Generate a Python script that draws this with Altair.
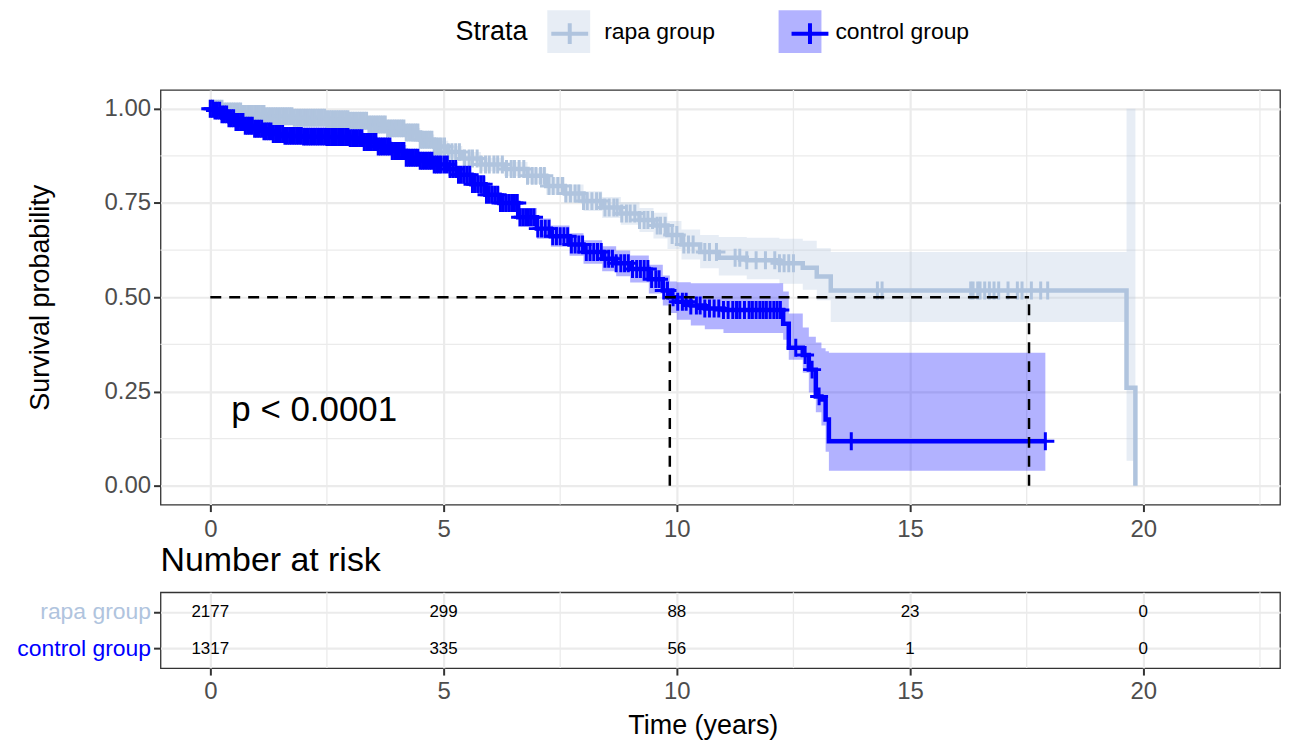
import altair as alt
import pandas as pd
import numpy as np

FONT = "Liberation Sans"

groups = ["rapa group", "control group"]
line_colors = ["#B0C4DE", "#0000FF"]

# ---- Kaplan-Meier step curves ----
rapa_time = [0.00, 0.30, 0.70, 1.20, 1.80, 2.50, 3.00, 3.40, 3.80, 4.20, 4.50, 4.80, 5.10, 5.40,
             5.80, 6.30, 6.80, 7.20, 7.60, 8.00, 8.40, 8.80, 9.20, 9.50, 9.80, 10.10, 10.50,
             10.90, 11.50, 12.20, 12.70, 13.00, 13.30, 19.64, 19.83]
rapa_surv = [1.000, 0.993, 0.986, 0.980, 0.976, 0.972, 0.968, 0.958, 0.948, 0.937, 0.918, 0.900,
             0.885, 0.868, 0.852, 0.840, 0.822, 0.795, 0.775, 0.755, 0.738, 0.722, 0.705, 0.690,
             0.665, 0.640, 0.620, 0.605, 0.598, 0.590, 0.578, 0.555, 0.518, 0.260, 0.000]
rapa_lower = [1.000, 0.989, 0.981, 0.974, 0.969, 0.964, 0.959, 0.948, 0.937, 0.925, 0.904, 0.885,
              0.869, 0.851, 0.834, 0.821, 0.801, 0.772, 0.751, 0.729, 0.710, 0.692, 0.673, 0.656,
              0.628, 0.600, 0.577, 0.558, 0.548, 0.536, 0.520, 0.492, 0.434, 0.066, 0.066]
rapa_upper = [1.000, 0.997, 0.991, 0.986, 0.983, 0.980, 0.977, 0.968, 0.959, 0.949, 0.932, 0.915,
              0.901, 0.885, 0.870, 0.859, 0.843, 0.818, 0.799, 0.781, 0.766, 0.752, 0.737, 0.724,
              0.702, 0.680, 0.665, 0.660, 0.658, 0.655, 0.650, 0.630, 0.620, 1.000, 1.000]

control_time = [0.00, 0.10, 0.25, 0.40, 0.55, 0.75, 0.95, 1.15, 1.35, 1.60, 2.00, 2.50, 3.00,
                3.30, 3.60, 3.90, 4.20, 4.50, 4.80, 5.10, 5.30, 5.60, 5.90, 6.20, 6.60, 7.00,
                7.30, 7.70, 8.00, 8.40, 8.70, 9.00, 9.40, 9.70, 9.85, 10.00, 10.30, 10.60,
                11.00, 12.28, 12.40, 12.70, 12.83, 12.98, 13.10, 13.19, 13.26, 17.90]
control_surv = [1.000, 0.995, 0.985, 0.975, 0.965, 0.955, 0.947, 0.940, 0.933, 0.928, 0.926,
                0.925, 0.922, 0.912, 0.900, 0.888, 0.870, 0.862, 0.852, 0.840, 0.825, 0.800,
                0.772, 0.750, 0.712, 0.682, 0.662, 0.640, 0.620, 0.602, 0.590, 0.575, 0.548,
                0.518, 0.500, 0.488, 0.478, 0.470, 0.466, 0.430, 0.366, 0.347, 0.308, 0.237,
                0.229, 0.176, 0.118, 0.118]
control_lower = [1.000, 0.990, 0.978, 0.966, 0.955, 0.944, 0.935, 0.928, 0.920, 0.915, 0.913,
                 0.912, 0.908, 0.897, 0.885, 0.872, 0.853, 0.845, 0.834, 0.821, 0.805, 0.779,
                 0.750, 0.727, 0.687, 0.655, 0.634, 0.610, 0.589, 0.569, 0.556, 0.539, 0.510,
                 0.478, 0.458, 0.440, 0.425, 0.415, 0.405, 0.387, 0.334, 0.300, 0.247, 0.195,
                 0.160, 0.090, 0.040, 0.040]
control_upper = [1.000, 0.999, 0.992, 0.983, 0.975, 0.966, 0.959, 0.952, 0.945, 0.941, 0.939,
                 0.938, 0.936, 0.926, 0.915, 0.904, 0.887, 0.879, 0.870, 0.859, 0.845, 0.821,
                 0.794, 0.773, 0.737, 0.709, 0.690, 0.670, 0.651, 0.635, 0.624, 0.611, 0.586,
                 0.558, 0.542, 0.540, 0.537, 0.537, 0.537, 0.515, 0.457, 0.420, 0.395, 0.380,
                 0.365, 0.357, 0.353, 0.353]

# ---- censoring times ----
rapa_censor = [
    0.00, 0.05, 0.10, 0.15, 0.20, 0.25, 0.30, 0.35, 0.40, 0.45, 0.50, 0.55, 0.60, 0.65, 0.70,
    0.75, 0.80, 0.85, 0.90, 0.95, 1.00, 1.05, 1.10, 1.15, 1.20, 1.25, 1.30, 1.35, 1.40, 1.45,
    1.50, 1.55, 1.60, 1.65, 1.70, 1.75, 1.80, 1.85, 1.90, 1.95, 2.00, 2.05, 2.10, 2.15, 2.20,
    2.25, 2.30, 2.35, 2.40, 2.45, 2.50, 2.55, 2.60, 2.65, 2.70, 2.75, 2.80, 2.85, 2.90, 2.95,
    3.00, 3.05, 3.10, 3.15, 3.20, 3.25, 3.30, 3.35, 3.40, 3.45, 3.50, 3.55, 3.60, 3.65, 3.70,
    3.75, 3.80, 3.85, 3.90, 3.95, 4.00, 4.05, 4.10, 4.15, 4.20, 4.25, 4.30, 4.35, 4.40, 4.45,
    4.50, 4.55, 4.60, 4.65, 4.70, 4.75, 4.80, 4.85, 4.90, 4.95, 5.02, 5.10, 5.18, 5.26, 5.34,
    5.45, 5.55, 5.62, 5.72, 5.80, 5.90, 5.98, 6.08, 6.16, 6.26, 6.35, 6.45, 6.52, 6.62, 6.72,
    6.80, 6.90, 6.98, 7.08, 7.16, 7.26, 7.35, 7.45, 7.55, 7.62, 7.72, 7.82, 7.90, 8.00, 8.08,
    8.18, 8.28, 8.36, 8.46, 8.55, 8.65, 8.72, 8.82, 8.92, 9.00, 9.10, 9.20, 9.30, 9.38, 9.48,
    9.58, 9.65, 9.75, 9.90, 10.00, 10.15, 10.25, 10.35, 10.60, 10.70, 10.85, 11.25, 11.35,
    11.50, 11.70, 11.90, 12.10, 12.20, 12.30, 12.40, 12.50, 14.30, 14.40, 16.30, 16.35, 16.45,
    16.50, 16.60, 16.70, 16.80, 16.90, 17.10, 17.30, 17.40, 17.60, 17.80, 17.95]
control_censor = [
    0.00, 0.05, 0.10, 0.15, 0.20, 0.25, 0.30, 0.35, 0.40, 0.45, 0.50, 0.55, 0.60, 0.65, 0.70,
    0.75, 0.80, 0.85, 0.90, 0.95, 1.00, 1.05, 1.10, 1.15, 1.20, 1.25, 1.30, 1.35, 1.40, 1.45,
    1.50, 1.55, 1.60, 1.65, 1.70, 1.75, 1.80, 1.85, 1.90, 1.95, 2.00, 2.05, 2.10, 2.15, 2.20,
    2.25, 2.30, 2.35, 2.40, 2.45, 2.50, 2.55, 2.60, 2.65, 2.70, 2.75, 2.80, 2.85, 2.90, 2.95,
    3.00, 3.05, 3.10, 3.15, 3.20, 3.25, 3.30, 3.35, 3.40, 3.45, 3.50, 3.55, 3.60, 3.65, 3.70,
    3.75, 3.80, 3.85, 3.90, 3.95, 4.00, 4.05, 4.10, 4.15, 4.20, 4.25, 4.30, 4.35, 4.40, 4.45,
    4.50, 4.55, 4.60, 4.65, 4.70, 4.75, 4.80, 4.85, 4.90, 4.95, 5.02, 5.08, 5.14, 5.20, 5.26,
    5.32, 5.38, 5.44, 5.50, 5.56, 5.62, 5.68, 5.74, 5.80, 5.86, 5.92, 5.98, 6.04, 6.10, 6.16,
    6.22, 6.28, 6.34, 6.40, 6.46, 6.52, 6.58, 6.64, 6.70, 6.76, 6.82, 6.88, 6.94, 7.02, 7.10,
    7.18, 7.26, 7.34, 7.42, 7.50, 7.58, 7.66, 7.74, 7.82, 7.90, 7.98, 8.06, 8.14, 8.22, 8.30,
    8.38, 8.46, 8.54, 8.62, 8.70, 8.80, 8.88, 8.96, 9.05, 9.14, 9.22, 9.30, 9.38, 9.46, 9.55,
    9.62, 9.72, 9.80, 9.92, 10.02, 10.12, 10.20, 10.30, 10.42, 10.50, 10.60, 10.70, 10.80,
    10.90, 11.00, 11.10, 11.20, 11.28, 11.35, 11.45, 11.55, 11.62, 11.70, 11.78, 11.85, 11.92,
    12.00, 12.08, 12.15, 12.22, 12.55, 12.75, 12.90, 13.05, 13.74, 17.90]

# ---- number at risk ----
risk_times = [0, 5, 10, 15, 20]
rapa_risk = [2177, 299, 88, 23, 0]
control_risk = [1317, 335, 56, 1, 0]

# ---- medians and p-value ----
median_times = [9.85, 17.55]
median_level = 0.5
pval_label = "p < 0.0001"
pval_time = 0.45
pval_surv = 0.20

# ---- axes ----
x_ticks = [0, 5, 10, 15, 20]
x_minor = [2.5, 7.5, 12.5, 17.5, 22.5]
y_ticks = [0.0, 0.25, 0.5, 0.75, 1.0]
y_minor = [0.125, 0.375, 0.625, 0.875]
x_domain = [-1.067, 22.93]
y_domain = [-0.05, 1.05]

# ---- build tables ----
curves = pd.concat([
    pd.DataFrame({"group": groups[0], "time": rapa_time, "surv": rapa_surv,
                  "lower": rapa_lower, "upper": rapa_upper}),
    pd.DataFrame({"group": groups[1], "time": control_time, "surv": control_surv,
                  "lower": control_lower, "upper": control_upper}),
], ignore_index=True)


def censor_table(name, times, steps, survs):
    idx = np.searchsorted(np.array(steps), np.array(times), side="right") - 1
    return pd.DataFrame({"group": name, "time": times, "surv": np.array(survs)[idx]})


censors = pd.concat([
    censor_table(groups[0], rapa_censor, rapa_time, rapa_surv),
    censor_table(groups[1], control_censor, control_time, control_surv),
], ignore_index=True)

risk = pd.concat([
    pd.DataFrame({"group": groups[0], "time": risk_times, "n": rapa_risk}),
    pd.DataFrame({"group": groups[1], "time": risk_times, "n": control_risk}),
], ignore_index=True)

med_h = pd.DataFrame({"x": [0.0], "x2": [max(median_times)], "y": [median_level]})
med_v = pd.DataFrame({"x": median_times, "y": [0.0] * len(median_times),
                      "y2": [median_level] * len(median_times)})
pdf = pd.DataFrame({"time": [pval_time], "surv": [pval_surv], "label": [pval_label]})

W = 1123
xscale = alt.Scale(domain=x_domain, nice=False, zero=False)
yscale = alt.Scale(domain=y_domain, nice=False, zero=False)

x_axis_main = alt.Axis(values=x_ticks, title=None, grid=True, labelFontSize=24,
                       labelPadding=6, tickSize=7)
y_axis_main = alt.Axis(values=y_ticks, format=".2f", title="Survival probability", grid=True,
                       labelFontSize=24, labelPadding=3, tickSize=7, titleFontSize=27,
                       titlePadding=50)

def X(field):
    return alt.X(field, type="quantitative", scale=xscale, axis=x_axis_main)

def Y(field):
    return alt.Y(field, type="quantitative", scale=yscale, axis=y_axis_main)

LEG_X = 296
LEG_Y = -80
legend_box = alt.Legend(
    title="Strata", orient="none", legendX=LEG_X, legendY=LEG_Y, direction="horizontal",
    padding=0, titleOrient="left", titleFontSize=27, titleFont=FONT, titleColor="black",
    titleFontWeight="normal", titlePadding=19, titleBaseline="middle", titleAnchor="middle",
    labelFontSize=23, labelFont=FONT, labelColor="black", labelOffset=14, columnPadding=63,
    symbolType="square", symbolSize=1849, symbolStrokeWidth=0, symbolOpacity=0.3,
)
cross_path = "M-0.86,0H0.86M0,-0.48V0.48"
legend_cross = alt.Legend(
    title=None, orient="none", legendX=LEG_X + 91, legendY=LEG_Y, direction="horizontal",
    padding=0, labelExpr="''", labelOffset=0, labelFontSize=23, labelFont=FONT,
    columnPadding=188, symbolType=cross_path, symbolSize=1849, symbolStrokeWidth=4,
    symbolFillColor="transparent",
)

fill_enc = alt.Fill("group:N", scale=alt.Scale(domain=groups, range=line_colors),
                    legend=legend_box)
stroke_enc = alt.Stroke("group:N", sort=groups, scale=alt.Scale(range=line_colors),
                        legend=legend_cross)

base_curves = alt.Chart(curves)
base_cens = alt.Chart(censors)

minor_x = alt.Chart(pd.DataFrame({"t": x_minor})).mark_rule(
    color="#EBEBEB", strokeWidth=1.3).encode(x=X("t"))
minor_y = alt.Chart(pd.DataFrame({"s": y_minor})).mark_rule(
    color="#EBEBEB", strokeWidth=1.3).encode(y=Y("s"))

bands = base_curves.mark_area(interpolate="step-after", fillOpacity=0.3).encode(
    x=X("time"), y=Y("lower"), y2="upper", fill=fill_enc)

line_layers = []
for g in groups:
    line_layers.append(base_curves.transform_filter(alt.datum.group == g).mark_line(
        interpolate="step-after", strokeWidth=4.5).encode(
        x=X("time"), y=Y("surv"), stroke=stroke_enc))
cens_layers = []
for g in groups:
    cens_layers.append(base_cens.transform_filter(alt.datum.group == g).mark_point(
        shape="M-1,0H1M0,-1V1", size=324, strokeWidth=3, filled=False, opacity=1).encode(
        x=X("time"), y=Y("surv"), stroke=stroke_enc))

med_h_layer = alt.Chart(med_h).mark_rule(color="black", strokeWidth=2.5,
                                          strokeDash=[11, 8]).encode(
    x=X("x"), x2="x2", y=Y("y"))
med_v_layer = alt.Chart(med_v).mark_rule(color="black", strokeWidth=2.5,
                                          strokeDash=[11, 8]).encode(
    x=X("x"), y=Y("y"), y2="y2")
p_layer = alt.Chart(pdf).mark_text(align="left", baseline="middle", fontSize=35,
                                   font=FONT, color="black").encode(
    x=X("time"), y=Y("surv"), text="label:N")

main = alt.layer(minor_x, minor_y, bands, line_layers[0], cens_layers[0], line_layers[1],
                 cens_layers[1], med_h_layer, med_v_layer, p_layer).properties(
    width=W, height=416)

# ---- risk table ----
x_axis_risk = alt.Axis(values=x_ticks, title="Time (years)", grid=True, labelFontSize=24,
                       labelPadding=5, tickSize=7, titleFontSize=27, titlePadding=9,
                       titleX=544)
y_axis_risk = alt.Axis(title=None, grid=True, labelFontSize=23, labelPadding=3, tickSize=7,
                       labelColor={"condition": {"test": "datum.value == 'rapa group'",
                                                 "value": line_colors[0]},
                                   "value": line_colors[1]})

risk_minor = alt.Chart(pd.DataFrame({"t": x_minor})).mark_rule(
    color="#EBEBEB", strokeWidth=1.3).encode(
    x=alt.X("t:Q", scale=xscale, axis=x_axis_risk))
risk_text = alt.Chart(risk).mark_text(fontSize=17, font=FONT, color="black").encode(
    x=alt.X("time:Q", scale=xscale, axis=x_axis_risk),
    y=alt.Y("group:N", sort=groups, scale=alt.Scale(type="point", padding=0.53),
            axis=y_axis_risk),
    text="n:Q")

risk_chart = alt.layer(risk_minor, risk_text).properties(
    width=W, height=76,
    title=alt.TitleParams("Number at risk", anchor="start", frame="group", fontSize=34,
                          font=FONT, fontWeight="normal", color="black", offset=14))

chart = alt.vconcat(main, risk_chart, spacing=0).resolve_legend(
    fill="independent", stroke="independent").properties(
    padding={"left": 8, "top": 0, "right": 0, "bottom": 0}
).configure_view(stroke="#333333", strokeWidth=1.3).configure_axis(
    gridColor="#EBEBEB", gridWidth=2.2, tickColor="#333333", tickWidth=2, domain=False,
    labelFont=FONT, titleFont=FONT, labelColor="#4D4D4D", titleColor="black",
    titleFontWeight="normal")

chart.save("out.html", embed_options={"renderer": "svg", "actions": False})
